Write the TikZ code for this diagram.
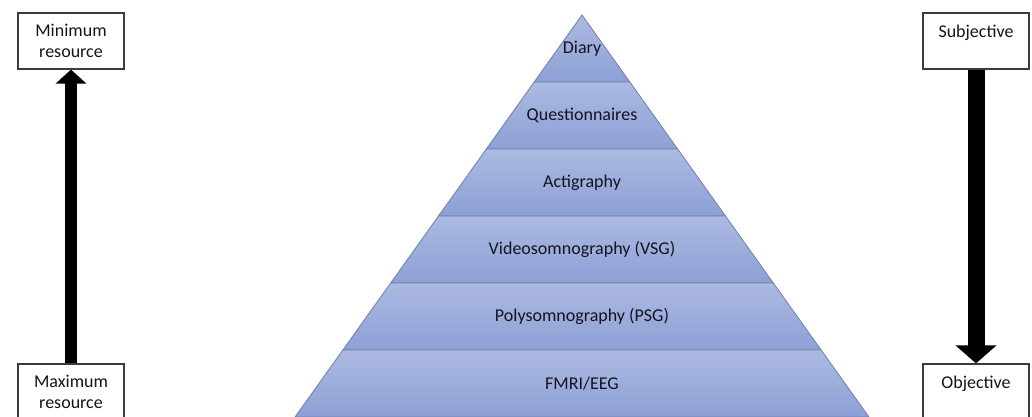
\documentclass[tikz,border=0pt]{standalone}
\usepackage{fontspec}
\setmainfont{Carlito}
\usetikzlibrary{positioning,arrows.meta}
\definecolor{bandtop}{RGB}{172,186,226}
\definecolor{bandbot}{RGB}{141,160,213}
\definecolor{bandline}{RGB}{112,128,172}
\definecolor{boxline}{RGB}{60,60,60}
\definecolor{labeltext}{RGB}{20,20,32}

\begin{document}
\begin{tikzpicture}[
    x=1pt, y=1pt,
    font=\fontsize{18}{21}\selectfont,
    box/.style={rectangle, draw=boxline, line width=1.2pt, fill=white, minimum width=106pt, minimum height=56pt},
    boxtext/.style={align=center, inner sep=0pt, text=labeltext},
    band/.style={draw=bandline, line width=0.8pt, top color=bandtop, bottom color=bandbot},
    bandtext/.style={text=labeltext}
]
\useasboundingbox (0,0) rectangle (1032,417);

% Pyramid
\foreach \lbl [count=\i from 0] in {Diary, Questionnaires, Actigraphy, Videosomnography (VSG), Polysomnography (PSG), FMRI/EEG} {
  \pgfmathsetmacro{\ytop}{402-67*\i}
  \pgfmathsetmacro{\ybot}{335-67*\i}
  \pgfmathsetmacro{\wtop}{47.83*\i}
  \pgfmathsetmacro{\wbot}{47.83*(\i+1)}
  \path[band] (582-\wtop,\ytop) -- (582+\wtop,\ytop) -- (582+\wbot,\ybot) -- (582-\wbot,\ybot) -- cycle;
  \node[bandtext] (band\i) at (582,\ytop-33.5) {\lbl};
}

% Resource boxes
\node[box] (minres) at (71,376) {};
\node[boxtext, below=12pt of minres.north] (minrestext) {Minimum\\resource};
\node[box] (maxres) at (71,25) {};
\node[boxtext, below=12pt of maxres.north] (maxrestext) {Maximum\\resource};

% Subjective / objective boxes
\node[box] (subj) at (976,376) {};
\node[boxtext, below=12pt of subj.north] (subjtext) {Subjective};
\node[box] (obj) at (976,25) {};
\node[boxtext, below=12pt of obj.north] (objtext) {Objective};

% Arrows
\draw[-{Triangle[width=30pt,length=14pt]}, line width=12pt] (maxres.north) -- (minres.south);
\draw[-{Triangle[width=40pt,length=18pt]}, line width=17pt] (subj.south) -- (obj.north);

\end{tikzpicture}
\end{document}
